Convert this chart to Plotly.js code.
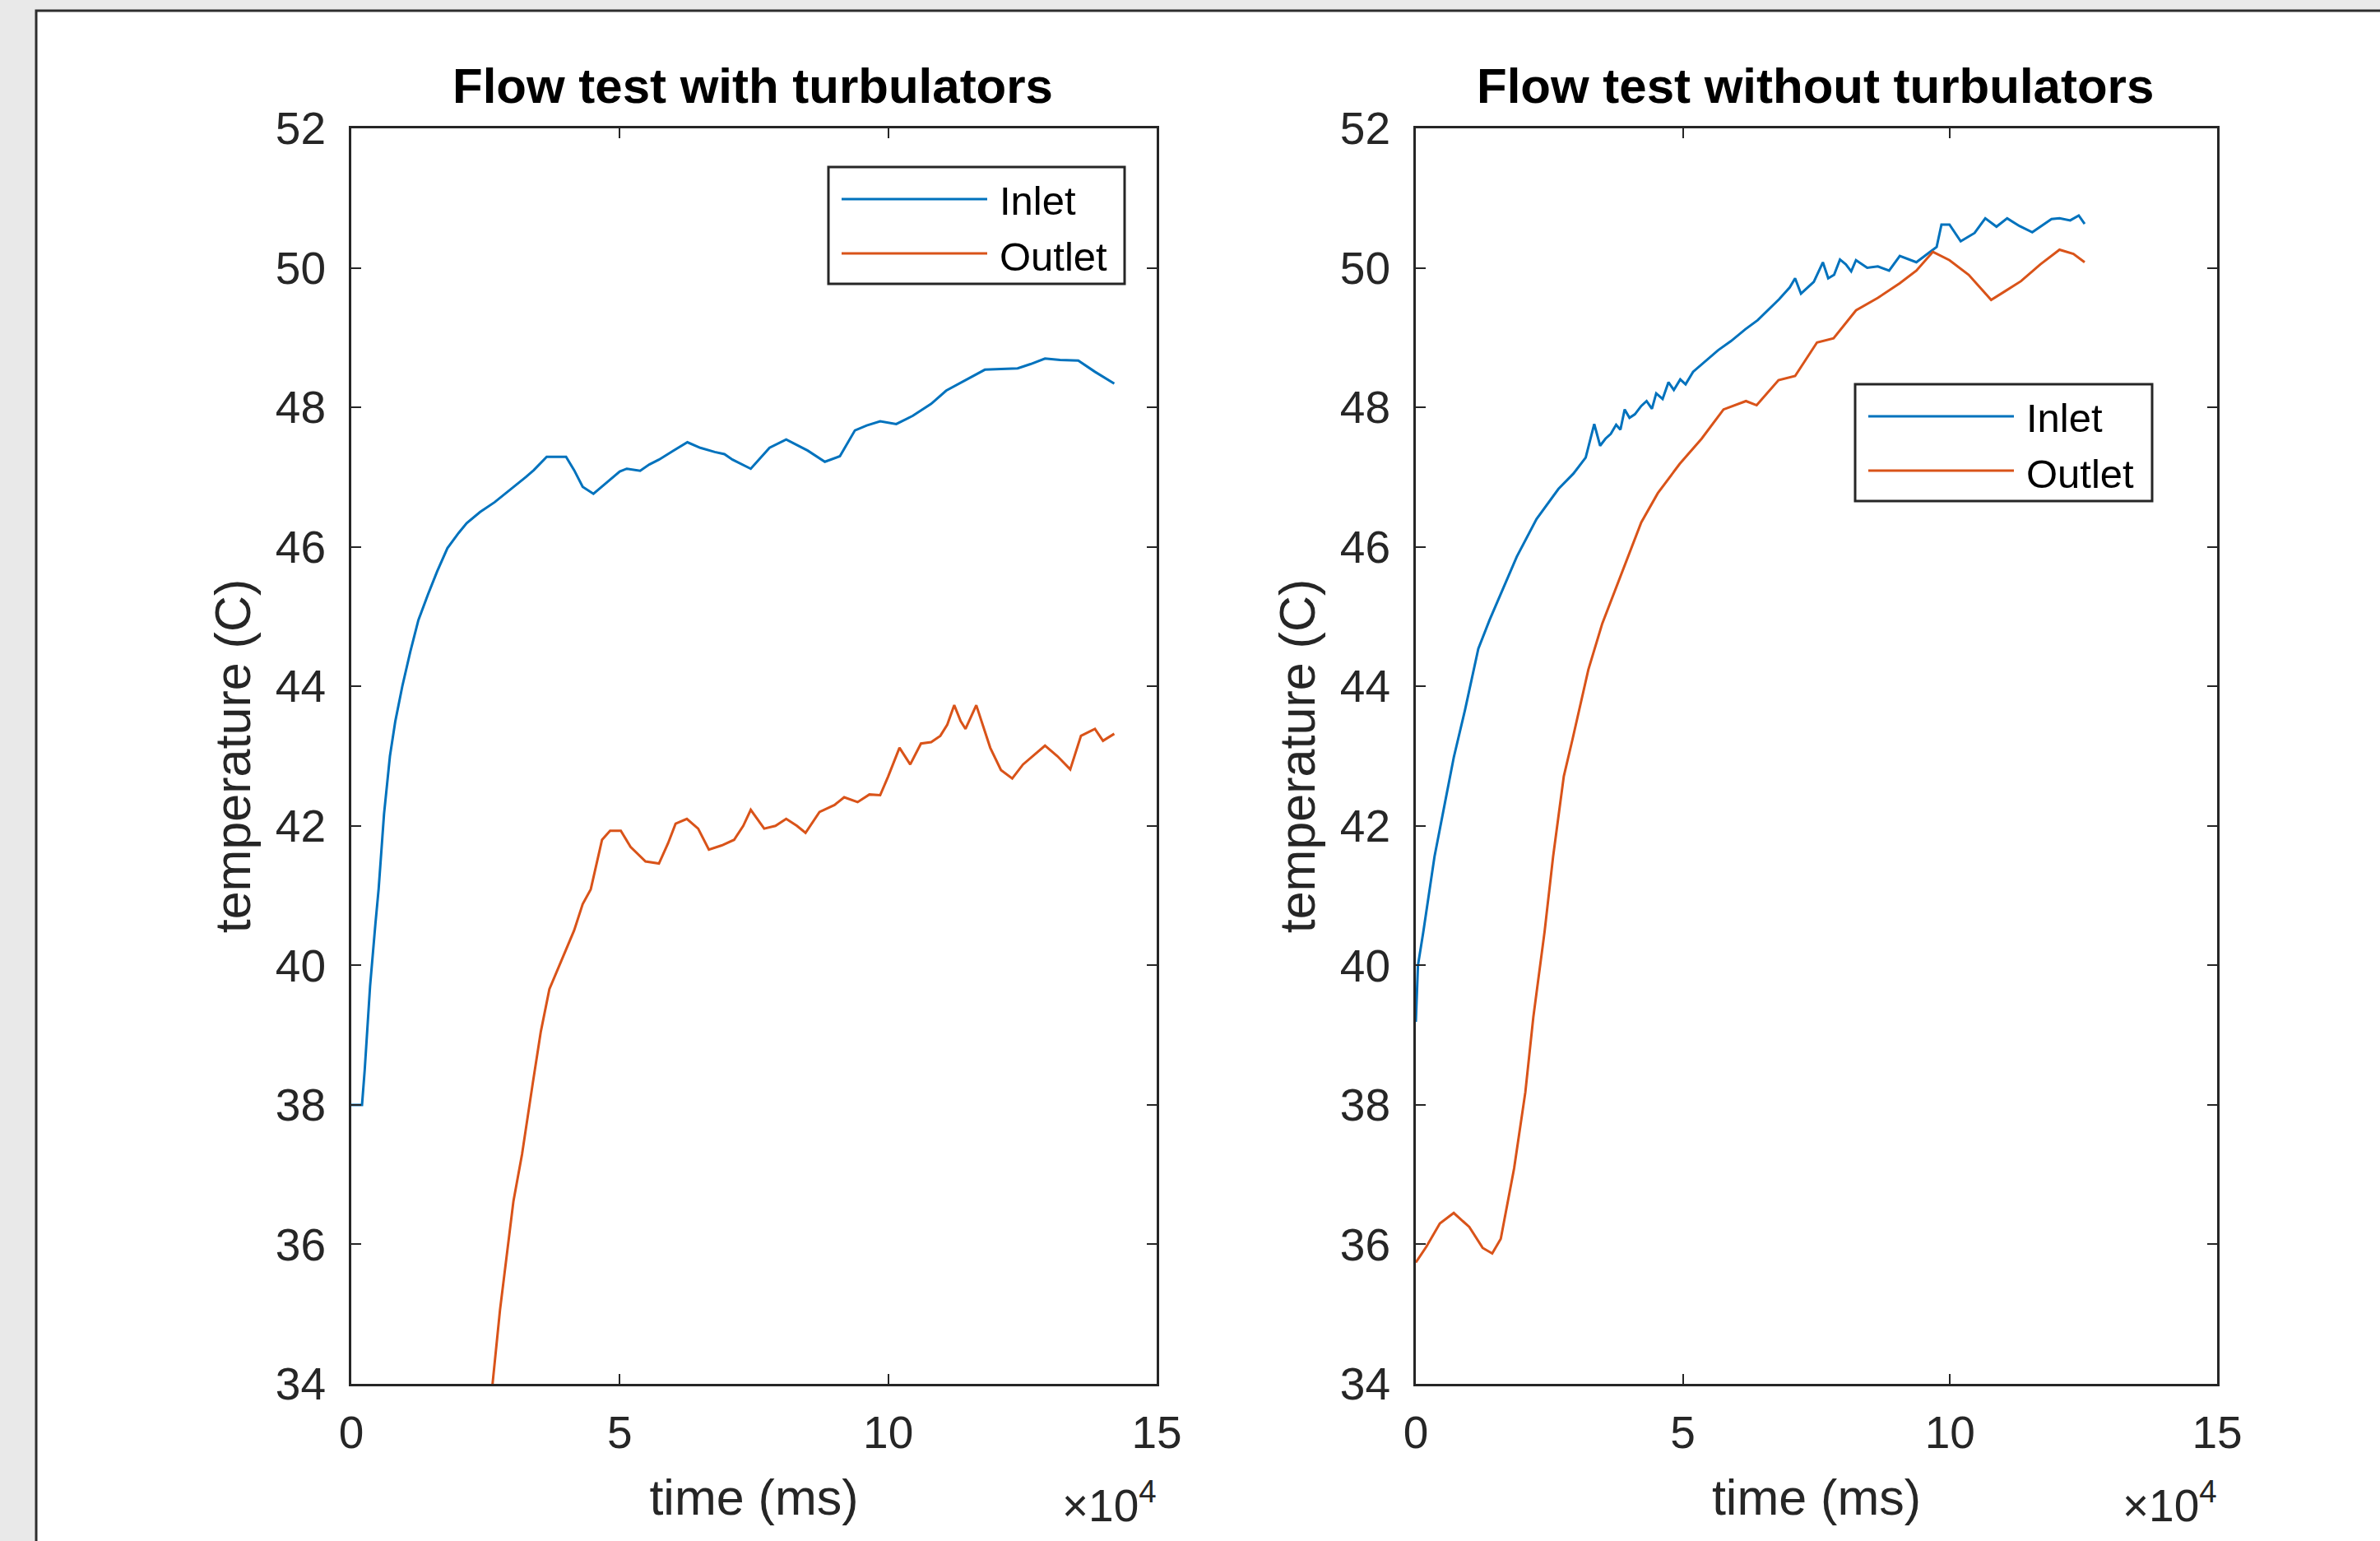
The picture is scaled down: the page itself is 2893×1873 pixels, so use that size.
<!DOCTYPE html>
<html><head><meta charset="utf-8">
<script src="https://cdn.plot.ly/plotly-3.0.1.min.js"></script>
<style>html,body{margin:0;padding:0;background:#e9e9e9;overflow:hidden}</style>
</head><body><div id="chart" style="width:2893px;height:1873px"></div>
<script>
// ---------------- data ----------------
const panelTitles = ['Flow test with turbulators', 'Flow test without turbulators'];
const seriesNames = ['Inlet', 'Outlet'];
const xTitle = 'time (ms)';
const yTitle = 'temperature (C)';
const xTickVals = [0, 50000, 100000, 150000];
const xTickText = ['0', '5', '10', '15'];
const yTickVals = [34, 36, 38, 40, 42, 44, 46, 48, 50, 52];

// Flow test WITH turbulators
const withInletTime = [0, 2000, 2500, 3500, 4500, 5100, 6100, 7200, 8200, 9500, 11000, 12500, 14300, 16000, 17900, 20000, 21500, 24000, 26700, 28500, 30700, 32500, 34000, 36400, 40000, 41500, 43100, 45100, 48000, 50000, 51300, 53800, 55500, 57300, 60000, 62600, 65000, 67700, 69500, 71000, 74400, 77900, 81000, 85000, 88200, 91000, 93800, 96000, 98500, 101500, 104600, 108000, 110800, 115000, 118000, 121000, 124100, 126500, 129200, 132000, 135400, 138500, 142100];
const withInletTemp = [38.0, 38.0, 38.5, 39.7, 40.6, 41.1, 42.17, 43.0, 43.5, 44.0, 44.5, 44.95, 45.32, 45.65, 45.98, 46.2, 46.34, 46.5, 46.64, 46.75, 46.88, 47.0, 47.1, 47.29, 47.29, 47.1, 46.86, 46.76, 46.95, 47.08, 47.12, 47.09, 47.18, 47.25, 47.38, 47.5, 47.42, 47.36, 47.33, 47.25, 47.12, 47.42, 47.54, 47.38, 47.22, 47.3, 47.67, 47.74, 47.8, 47.76, 47.88, 48.05, 48.24, 48.42, 48.54, 48.55, 48.56, 48.62, 48.7, 48.68, 48.67, 48.51, 48.34];

const withOutletTime = [25000, 27700, 30200, 31800, 33800, 35300, 36900, 39500, 41500, 43100, 44600, 46700, 48200, 50200, 52000, 54800, 57300, 59000, 60400, 62500, 64600, 66600, 69000, 71300, 73000, 74400, 76900, 79000, 81000, 83000, 84600, 87200, 90000, 91800, 94300, 96500, 98500, 100000, 102100, 104100, 106100, 108000, 109700, 111000, 112300, 113500, 114400, 116400, 119000, 121000, 123100, 125100, 127000, 129200, 131500, 133900, 135900, 137500, 138500, 140000, 142100];
const withOutletTemp = [33.0, 35.06, 36.62, 37.29, 38.31, 39.05, 39.66, 40.14, 40.5, 40.88, 41.09, 41.8, 41.93, 41.93, 41.7, 41.49, 41.46, 41.75, 42.03, 42.1, 41.96, 41.66, 41.72, 41.8, 42.0, 42.23, 41.96, 42.0, 42.1, 42.0, 41.9, 42.2, 42.3, 42.41, 42.34, 42.45, 42.44, 42.71, 43.12, 42.88, 43.18, 43.2, 43.29, 43.45, 43.73, 43.5, 43.39, 43.73, 43.12, 42.8, 42.68, 42.88, 43.0, 43.15, 43.0, 42.81, 43.29, 43.35, 43.39, 43.22, 43.32];

// Flow test WITHOUT turbulators
const withoutInletTime = [0, 400, 1400, 3500, 5500, 7100, 9200, 11700, 13800, 15900, 18900, 22600, 26700, 29500, 31800, 33400, 34500, 35500, 36500, 37500, 38300, 39100, 40000, 41000, 42200, 43200, 44200, 45000, 46200, 47300, 48300, 49500, 50500, 51900, 54000, 56600, 59000, 61700, 64000, 65900, 68000, 70000, 71000, 72100, 74500, 76200, 77200, 78300, 79400, 80500, 81500, 82400, 84500, 86500, 88600, 90600, 93700, 96300, 97500, 98400, 99900, 102000, 104600, 106600, 108700, 110700, 113000, 115400, 117400, 119000, 120500, 122500, 124100, 125200];
const withoutInletTemp = [39.19, 40.0, 40.48, 41.56, 42.35, 42.98, 43.66, 44.54, 44.95, 45.32, 45.86, 46.4, 46.83, 47.05, 47.28, 47.76, 47.45, 47.55, 47.62, 47.75, 47.68, 47.97, 47.85, 47.9, 48.02, 48.09, 47.98, 48.2, 48.12, 48.36, 48.25, 48.4, 48.33, 48.51, 48.65, 48.82, 48.95, 49.12, 49.25, 49.39, 49.55, 49.72, 49.85, 49.63, 49.8, 50.08, 49.85, 49.9, 50.12, 50.05, 49.95, 50.11, 50.0, 50.02, 49.96, 50.17, 50.08, 50.23, 50.3, 50.62, 50.62, 50.38, 50.5, 50.71, 50.59, 50.71, 50.6, 50.51, 50.62, 50.7, 50.71, 50.68, 50.75, 50.63];

const withoutOutletTime = [0, 2000, 4500, 7100, 10000, 12500, 14300, 15900, 18400, 20500, 22000, 24100, 25700, 27700, 29300, 32300, 34900, 38500, 42200, 45300, 49400, 53500, 57600, 61800, 63800, 67900, 71000, 75100, 78200, 82400, 86500, 90600, 93700, 96800, 99900, 103500, 107700, 110200, 113300, 116900, 120500, 123100, 125200];
const withoutOutletTemp = [35.74, 35.97, 36.3, 36.45, 36.25, 35.95, 35.87, 36.08, 37.09, 38.18, 39.26, 40.48, 41.56, 42.71, 43.23, 44.24, 44.9, 45.62, 46.35, 46.77, 47.19, 47.55, 47.97, 48.09, 48.03, 48.39, 48.45, 48.93, 48.99, 49.39, 49.57, 49.78, 49.96, 50.23, 50.11, 49.9, 49.54, 49.66, 49.81, 50.05, 50.26, 50.2, 50.08];

// ---------------- styling ----------------
const W = 2893, H = 1873;
const px = x => x / W;
const py = y => 1 - y / H;
const FONT = 'Liberation Sans, Arial, Helvetica, sans-serif';
const AX = '#262626';
const BLUE = '#0072BD';
const ORANGE = '#D95319';
const colors = [BLUE, ORANGE];

const traces = [
  {x: withInletTime, y: withInletTemp, name: seriesNames[0], xaxis: 'x', yaxis: 'y', color: BLUE},
  {x: withOutletTime, y: withOutletTemp, name: seriesNames[1], xaxis: 'x', yaxis: 'y', color: ORANGE},
  {x: withoutInletTime, y: withoutInletTemp, name: seriesNames[0], xaxis: 'x2', yaxis: 'y2', color: BLUE},
  {x: withoutOutletTime, y: withoutOutletTemp, name: seriesNames[1], xaxis: 'x2', yaxis: 'y2', color: ORANGE}
].map(t => ({
  type: 'scatter', mode: 'lines', x: t.x, y: t.y, name: t.name,
  xaxis: t.xaxis, yaxis: t.yaxis, showlegend: false, hoverinfo: 'skip',
  line: {color: t.color, width: 3}
}));

function xAxis(domain, anchor) {
  return {
    domain: domain, anchor: anchor, range: [0, 150000],
    tickmode: 'array', tickvals: xTickVals, ticktext: xTickText,
    showline: true, linecolor: AX, linewidth: 3, mirror: 'ticks',
    ticks: 'inside', ticklen: 12, tickwidth: 2, tickcolor: AX,
    showgrid: false, zeroline: false, fixedrange: true,
    ticklabelstandoff: 9,
    tickfont: {family: FONT, size: 55, color: AX},
    title: {text: xTitle, font: {family: FONT, size: 61, color: AX}, standoff: 28}
  };
}
function yAxis(domain, anchor) {
  return {
    domain: domain, anchor: anchor, range: [34, 52],
    tickmode: 'array', tickvals: yTickVals,
    showline: true, linecolor: AX, linewidth: 3, mirror: 'ticks',
    ticks: 'inside', ticklen: 12, tickwidth: 2, tickcolor: AX,
    showgrid: false, zeroline: false, fixedrange: true,
    ticklabelstandoff: 17,
    tickfont: {family: FONT, size: 55, color: AX},
    title: {text: yTitle, font: {family: FONT, size: 61, color: AX}, standoff: 11}
  };
}

const yDom = [py(1682), py(156)];
const panels = [
  {x0: 427, x1: 1406, leg: {x0: 1007, x1: 1367, y0: 203, y1: 345}},
  {x0: 1721, x1: 2695, leg: {x0: 2255, x1: 2616, y0: 467, y1: 609}}
];

const shapes = [
  // white figure area with dark frame
  {type: 'rect', xref: 'paper', yref: 'paper', layer: 'below',
   x0: px(44), x1: px(W + 20), y0: py(H + 20), y1: py(13),
   fillcolor: '#ffffff', line: {color: '#2e2e2e', width: 3}}
];
const annotations = [];

panels.forEach((p, i) => {
  const cx = (p.x0 + p.x1) / 2;
  // panel title
  annotations.push({xref: 'paper', yref: 'paper', x: px(cx - 2), y: py(104),
    xanchor: 'center', yanchor: 'middle', showarrow: false,
    text: '<b>' + panelTitles[i] + '</b>',
    font: {family: FONT, size: 60, color: '#000000'}});
  // x10^4 exponent label
  annotations.push({xref: 'paper', yref: 'paper', x: px(p.x1 + 2), y: py(1826),
    xanchor: 'right', yanchor: 'middle', showarrow: false,
    text: '\u00d710<sup>4</sup>',
    font: {family: FONT, size: 55, color: AX}});
  // legend box
  const L = p.leg;
  shapes.push({type: 'rect', xref: 'paper', yref: 'paper',
    x0: px(L.x0), x1: px(L.x1), y0: py(L.y1), y1: py(L.y0),
    fillcolor: '#ffffff', line: {color: AX, width: 3}});
  const lineY = [L.y0 + 39, L.y0 + 105];
  const textY = [L.y0 + 41, L.y0 + 109];
  seriesNames.forEach((nm, k) => {
    shapes.push({type: 'line', xref: 'paper', yref: 'paper',
      x0: px(L.x0 + 16), x1: px(L.x0 + 193), y0: py(lineY[k]), y1: py(lineY[k]),
      line: {color: colors[k], width: 3}});
    annotations.push({xref: 'paper', yref: 'paper', x: px(L.x0 + 206), y: py(textY[k]),
      xanchor: 'left', yanchor: 'middle', showarrow: false, text: nm,
      font: {family: FONT, size: 49, color: '#000000'}});
  });
});

const layout = {
  width: W, height: H,
  margin: {l: 0, r: 0, t: 0, b: 0, pad: 0},
  paper_bgcolor: '#e9e9e9', plot_bgcolor: '#ffffff',
  showlegend: false,
  font: {family: FONT, color: AX},
  xaxis: xAxis([px(panels[0].x0), px(panels[0].x1)], 'y'),
  yaxis: yAxis(yDom, 'x'),
  xaxis2: xAxis([px(panels[1].x0), px(panels[1].x1)], 'y2'),
  yaxis2: yAxis(yDom, 'x2'),
  shapes: shapes,
  annotations: annotations
};

Plotly.newPlot('chart', traces, layout, {staticPlot: true, displayModeBar: false});
</script>
</body></html>
